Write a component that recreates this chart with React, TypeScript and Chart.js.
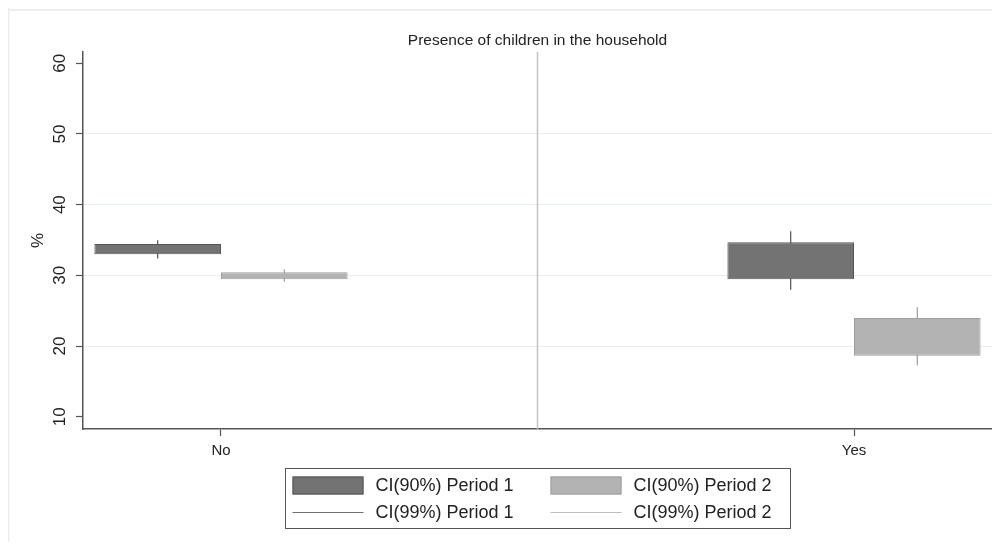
import React, { useEffect, useRef } from "react";
import { Chart, registerables } from "chart.js";

Chart.register(...registerables);

const categories = ["No", "Yes"];
const categoryIndex = [0, 1];

const p1Ci90Low = [32.97, 29.46];
const p1Ci90High = [34.43, 34.7];
const p1Ci99Low = [32.37, 27.95];
const p1Ci99High = [34.95, 36.25];

const p2Ci90Low = [29.45, 18.63];
const p2Ci90High = [30.44, 23.96];
const p2Ci99Low = [29.1, 17.26];
const p2Ci99High = [30.81, 25.5];

const yTicks = [10, 20, 30, 40, 50, 60];
const yGridTicks = [20, 30, 40, 50];

const chartTitle = "Presence of children in the household";
const yTitle = "%";
const seriesLabels = ["CI(90%) Period 1", "CI(90%) Period 2", "CI(99%) Period 1", "CI(99%) Period 2"];

const FONT = "'Liberation Sans', Arial, sans-serif";
const TEXT = "#222222";

const pairs = (lo: number[], hi: number[]) =>
  categoryIndex.map((x, i) => ({ x, y: [lo[i], hi[i]] }));

const framePlugin = {
  id: "frame",
  beforeDraw(chart: any) {
    const { ctx, width, height } = chart;
    ctx.save();
    ctx.fillStyle = "#ffffff";
    ctx.fillRect(0, 0, width, height);
    ctx.fillStyle = "#e8eff1";
    ctx.fillRect(0, 1, width, 2);
    ctx.fillRect(0, 0, 1.5, height);
    ctx.restore();
  },
  beforeDatasetsDraw(chart: any) {
    const { ctx, chartArea } = chart;
    const xs = chart.scales.x;
    const mid = xs.getPixelForValue((categoryIndex[0] + categoryIndex[1]) / 2);
    ctx.save();
    ctx.strokeStyle = "#c2c2c2";
    ctx.lineWidth = 1.5;
    ctx.beginPath();
    ctx.moveTo(mid, chartArea.top);
    ctx.lineTo(mid, chartArea.bottom);
    ctx.stroke();
    ctx.restore();
  },
  afterDraw(chart: any) {
    const { ctx, chartArea } = chart;
    const ys = chart.scales.y;
    ctx.save();
    ctx.fillStyle = TEXT;
    ctx.font = `17px ${FONT}`;
    ctx.textAlign = "center";
    ctx.textBaseline = "middle";
    ys.ticks.forEach((t: any) => {
      const y = ys.getPixelForValue(t.value);
      ctx.save();
      ctx.translate(52.5, y);
      ctx.rotate(-Math.PI / 2);
      ctx.fillText(String(t.value), 0, 0);
      ctx.restore();
    });
    ctx.save();
    ctx.translate(30, (chartArea.top + chartArea.bottom) / 2);
    ctx.rotate(-Math.PI / 2);
    ctx.font = `17px ${FONT}`;
    ctx.fillText(yTitle, 0, 0);
    ctx.restore();

    // legend
    const ds = chart.data.datasets;
    const lw = 505;
    const lh = 60;
    const cx = (chartArea.left + chartArea.right) / 2;
    const left = Math.round(cx - lw / 2) + 0.5;
    const top = 460.5;
    ctx.fillStyle = "#ffffff";
    ctx.fillRect(left, top, lw, lh);
    ctx.strokeStyle = "#555555";
    ctx.lineWidth = 1;
    ctx.strokeRect(left, top, lw, lh);
    const rows = [
      [0, 1],
      [2, 3],
    ];
    const rowY = [top + 17, top + 43.5];
    const colX = [left + 7, left + 265];
    ctx.font = `18px ${FONT}`;
    ctx.textAlign = "left";
    ctx.textBaseline = "middle";
    rows.forEach((r, ri) => {
      r.forEach((di, ci) => {
        const d = ds[di];
        const x0 = colX[ci];
        const y0 = rowY[ri];
        if (ri === 0) {
          ctx.fillStyle = d.backgroundColor;
          ctx.fillRect(x0, y0 - 9, 71, 18);
          ctx.strokeStyle = d.borderColor;
          ctx.lineWidth = 1;
          ctx.strokeRect(x0 + 0.5, y0 - 8.5, 70, 17);
        } else {
          ctx.strokeStyle = d.legendLine;
          ctx.lineWidth = 1;
          ctx.beginPath();
          ctx.moveTo(x0, Math.round(y0) + 0.5);
          ctx.lineTo(x0 + 71, Math.round(y0) + 0.5);
          ctx.stroke();
        }
        ctx.fillStyle = TEXT;
        ctx.fillText(d.label, x0 + 83, y0 + 1);
      });
    });
    ctx.restore();
  },
};

export default function App() {
  const ref = useRef<HTMLCanvasElement | null>(null);

  useEffect(() => {
    if (!ref.current) return;
    const xMin = -0.218;
    const xMax = 1.218;
    const chart = new Chart(ref.current, {
      type: "bar",
      data: {
        datasets: [
          {
            label: seriesLabels[0],
            data: pairs(p1Ci90Low, p1Ci90High),
            stack: "p1",
            backgroundColor: "#737373",
            borderColor: "#555555",
            borderWidth: 1,
            borderSkipped: false,
            categoryPercentage: 0.4,
            barPercentage: 1,
            order: 0,
          },
          {
            label: seriesLabels[1],
            data: pairs(p2Ci90Low, p2Ci90High),
            stack: "p2",
            backgroundColor: "#b3b3b3",
            borderColor: "#9e9e9e",
            borderWidth: 1,
            borderSkipped: false,
            categoryPercentage: 0.4,
            barPercentage: 1,
            order: 0,
          },
          {
            label: seriesLabels[2],
            data: pairs(p1Ci99Low, p1Ci99High),
            stack: "p1",
            backgroundColor: "#4f4f4f",
            legendLine: "#707070",
            borderWidth: 0,
            categoryPercentage: 0.4,
            barPercentage: 1,
            maxBarThickness: 1.2,
            order: 1,
          },
          {
            label: seriesLabels[3],
            data: pairs(p2Ci99Low, p2Ci99High),
            stack: "p2",
            backgroundColor: "#9a9a9a",
            legendLine: "#bdbdbd",
            borderWidth: 0,
            categoryPercentage: 0.4,
            barPercentage: 1,
            maxBarThickness: 1.2,
            order: 1,
          },
        ] as any,
      },
      options: {
        animation: false,
        responsive: false,
        events: [],
        layout: { padding: 0 },
        plugins: {
          legend: { display: false },
          tooltip: { enabled: false },
          title: {
            display: true,
            text: chartTitle,
            fullSize: false,
            color: TEXT,
            font: { family: FONT, size: 15.5, weight: "normal" },
            padding: { top: 23, bottom: 2.4 },
          },
        },
        scales: {
          x: {
            type: "linear",
            position: "bottom",
            min: xMin,
            max: xMax,
            offset: false,
            afterBuildTicks: (scale: any) => {
              scale.ticks = categoryIndex.map((v) => ({ value: v }));
            },
            afterFit: (s: any) => {
              s.height = 113;
            },
            grid: {
              offset: false,
              drawOnChartArea: false,
              drawTicks: true,
              tickLength: 7,
              tickColor: "#555555",
              tickWidth: 1.2,
            },
            border: { display: true, color: "#555555", width: 1.5 },
            ticks: {
              color: TEXT,
              font: { family: FONT, size: 15 },
              padding: 6,
              maxRotation: 0,
              callback: (v: any) => {
                const i = categoryIndex.indexOf(Number(v));
                return i >= 0 ? categories[i] : "";
              },
            },
          },
          y: {
            type: "linear",
            position: "left",
            stacked: false,
            min: 8.26,
            max: 61.6,
            afterBuildTicks: (scale: any) => {
              scale.ticks = yTicks.map((v) => ({ value: v }));
            },
            afterFit: (s: any) => {
              s.width = 75;
            },
            ticks: { display: false },
            grid: {
              color: (c: any) =>
                c.tick && yGridTicks.includes(c.tick.value) ? "#e8eff1" : "rgba(0,0,0,0)",
              lineWidth: 1,
              drawTicks: true,
              tickLength: 7,
              tickColor: "#555555",
              tickWidth: 1.2,
            },
            border: { display: true, color: "#555555", width: 1.5 },
          },
        },
      } as any,
      plugins: [framePlugin],
    });
    return () => chart.destroy();
  }, []);

  return (
    <div style={{ width: 984, height: 534 }}>
      <canvas ref={ref} width={984} height={534} style={{ display: "block" }} />
    </div>
  );
}
